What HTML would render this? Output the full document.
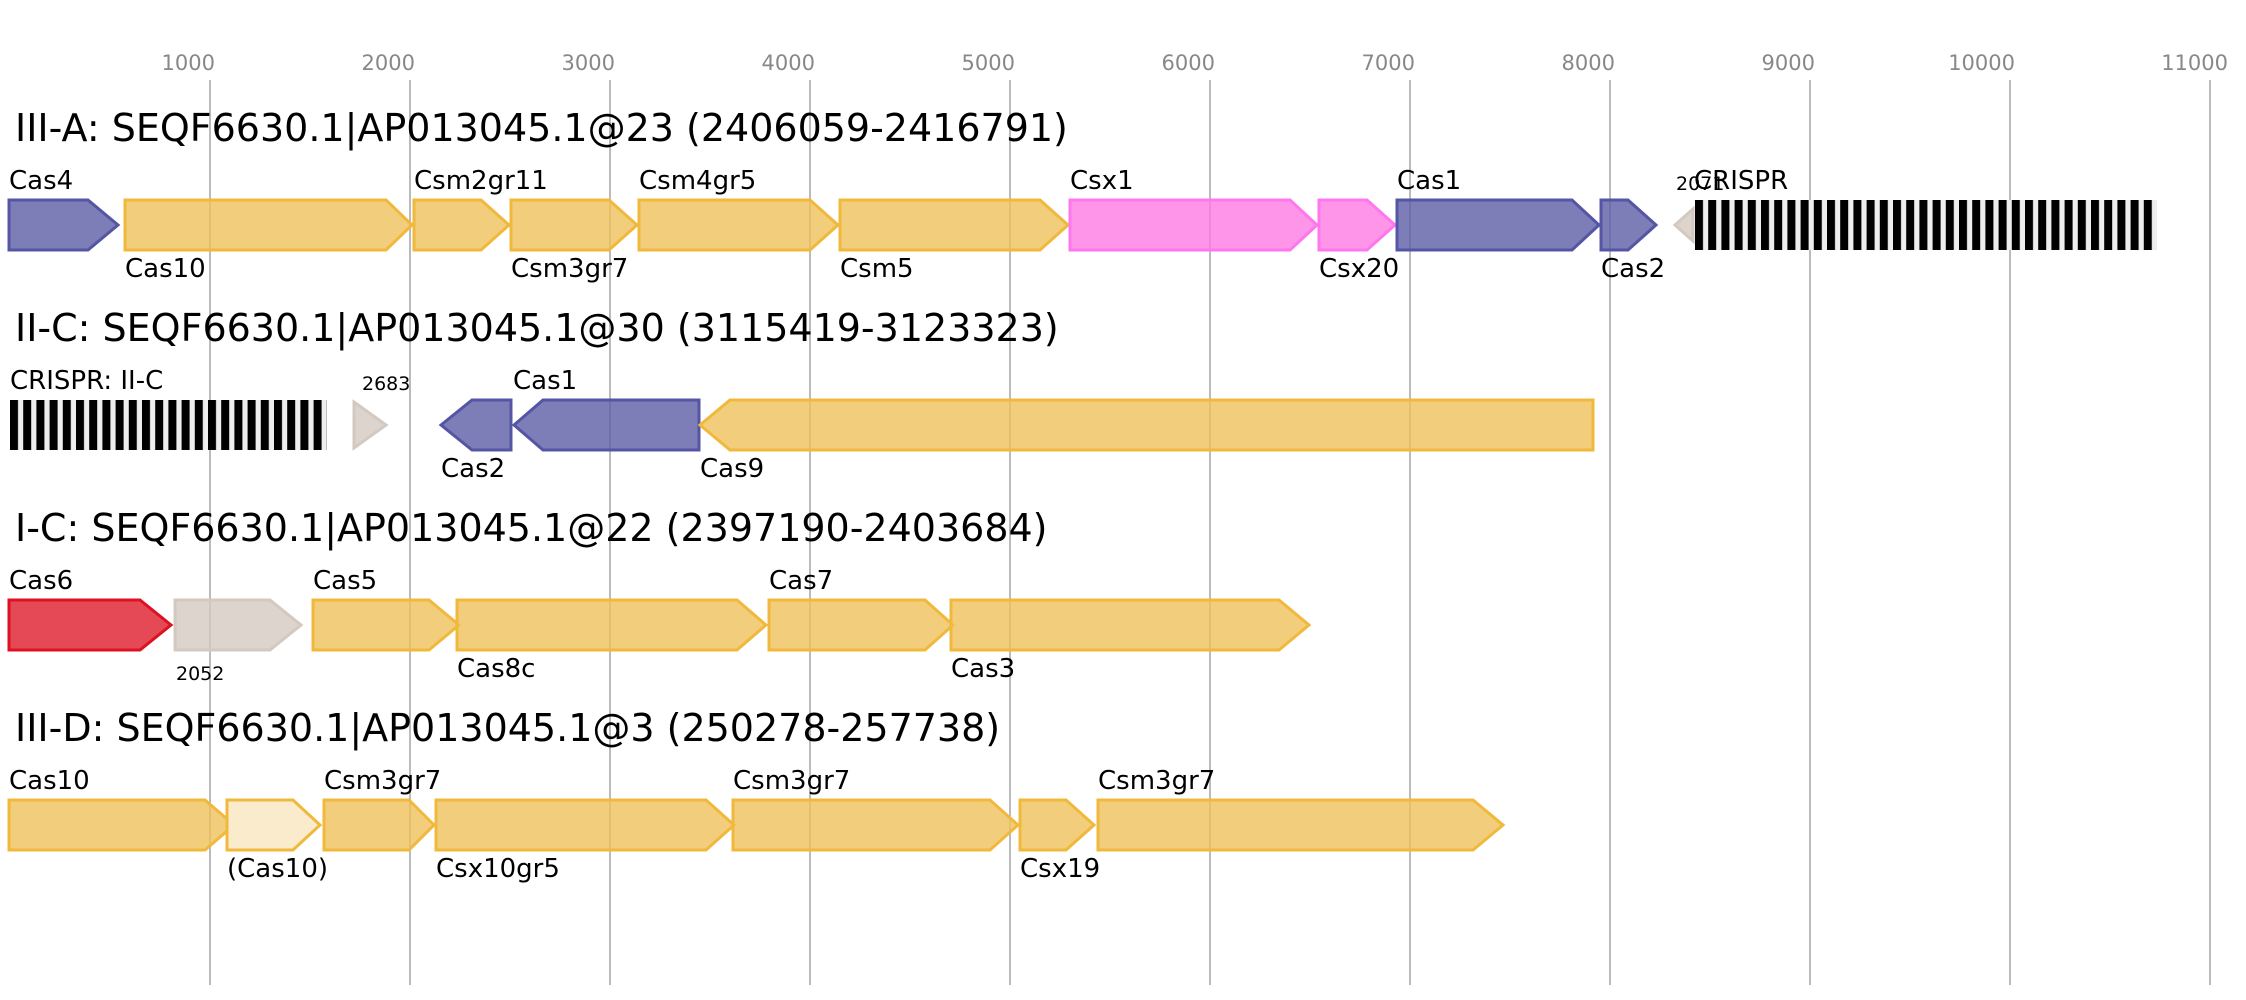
<!DOCTYPE html>
<html><head><meta charset="utf-8"><style>
html,body{margin:0;padding:0;background:#fff}
svg{display:block}
text{font-family:"DejaVu Sans","Liberation Sans",sans-serif}
</style></head><body>
<svg width="2246" height="1000" viewBox="0 0 2246 1000" xmlns="http://www.w3.org/2000/svg">
<g stroke="#bbb" stroke-width="2">
<line x1="210" y1="80" x2="210" y2="985"/><line x1="410" y1="80" x2="410" y2="985"/><line x1="610" y1="80" x2="610" y2="985"/><line x1="810" y1="80" x2="810" y2="985"/><line x1="1010" y1="80" x2="1010" y2="985"/><line x1="1210" y1="80" x2="1210" y2="985"/><line x1="1410" y1="80" x2="1410" y2="985"/><line x1="1610" y1="80" x2="1610" y2="985"/><line x1="1810" y1="80" x2="1810" y2="985"/><line x1="2010" y1="80" x2="2010" y2="985"/><line x1="2210" y1="80" x2="2210" y2="985"/>
</g>
<g fill="#888" font-size="21" text-anchor="end">
<text x="215" y="70">1000</text><text x="415" y="70">2000</text><text x="615" y="70">3000</text><text x="815" y="70">4000</text><text x="1015" y="70">5000</text><text x="1215" y="70">6000</text><text x="1415" y="70">7000</text><text x="1615" y="70">8000</text><text x="1815" y="70">9000</text><text x="2015" y="70">10000</text><text x="2228" y="70">11000</text>
</g>
<g font-size="38" fill="#000">
<text x="15" y="141">III-A: SEQF6630.1|AP013045.1@23 (2406059-2416791)</text>
<text x="15" y="341">II-C: SEQF6630.1|AP013045.1@30 (3115419-3123323)</text>
<text x="15" y="541">I-C: SEQF6630.1|AP013045.1@22 (2397190-2403684)</text>
<text x="15" y="741">III-D: SEQF6630.1|AP013045.1@3 (250278-257738)</text>
</g>
<defs>
<pattern id="cr" x="10" y="0" width="13.2" height="10" patternUnits="userSpaceOnUse"><rect width="13.2" height="10" fill="#eee"/><rect width="8" height="10" fill="#000"/></pattern>
<pattern id="cr2" x="1695" y="0" width="13.2" height="10" patternUnits="userSpaceOnUse"><rect width="13.2" height="10" fill="#eee"/><rect width="8" height="10" fill="#000"/></pattern>
</defs>
<g stroke-width="3" fill-opacity="0.8">
<polygon points="9,200 88,200 118,225 88,250 9,250" fill="#5d5da5" stroke="#5555a5"/>
<polygon points="125,200 386,200 412,225 386,250 125,250" fill="#efc05a" stroke="#f0b93c"/>
<polygon points="414,200 481,200 509,225 481,250 414,250" fill="#efc05a" stroke="#f0b93c"/>
<polygon points="511,200 609,200 637,225 609,250 511,250" fill="#efc05a" stroke="#f0b93c"/>
<polygon points="639,200 810,200 838,225 810,250 639,250" fill="#efc05a" stroke="#f0b93c"/>
<polygon points="840,200 1040,200 1068,225 1040,250 840,250" fill="#efc05a" stroke="#f0b93c"/>
<polygon points="1070,200 1290,200 1317,225 1290,250 1070,250" fill="#ff7ae4" stroke="#ff77ee"/>
<polygon points="1319,200 1367,200 1395,225 1367,250 1319,250" fill="#ff7ae4" stroke="#ff77ee"/>
<polygon points="1397,200 1572,200 1599,225 1572,250 1397,250" fill="#5d5da5" stroke="#5555a5"/>
<polygon points="1601,200 1628,200 1656,225 1628,250 1601,250" fill="#5d5da5" stroke="#5555a5"/>
<polygon points="1675,225 1693,209 1693,241" fill="#d3c9c1" stroke="#d3c9c1"/>
<polygon points="354,402 386,425 354,448" fill="#d3c9c1" stroke="#d3c9c1"/>
<polygon points="441,425 472,400 511,400 511,450 472,450" fill="#5d5da5" stroke="#5555a5"/>
<polygon points="514,425 543,400 699,400 699,450 543,450" fill="#5d5da5" stroke="#5555a5"/>
<polygon points="700,425 730,400 1593,400 1593,450 730,450" fill="#efc05a" stroke="#f0b93c"/>
<polygon points="9,600 140,600 171,625 140,650 9,650" fill="#df1c2c" stroke="#dd1122"/>
<polygon points="175,600 270,600 301,625 270,650 175,650" fill="#d3c9c1" stroke="#d3c9c1"/>
<polygon points="313,600 429,600 459,625 429,650 313,650" fill="#efc05a" stroke="#f0b93c"/>
<polygon points="457,600 737,600 766,625 737,650 457,650" fill="#efc05a" stroke="#f0b93c"/>
<polygon points="769,600 925,600 953,625 925,650 769,650" fill="#efc05a" stroke="#f0b93c"/>
<polygon points="951,600 1279,600 1309,625 1279,650 951,650" fill="#efc05a" stroke="#f0b93c"/>
<polygon points="9,800 205,800 234,825 205,850 9,850" fill="#efc05a" stroke="#f0b93c"/>
<polygon points="227,800 293,800 320,825 293,850 227,850" fill="#faebcc" stroke="#f0b93c" fill-opacity="1"/>
<polygon points="324,800 409,800 434,825 409,850 324,850" fill="#efc05a" stroke="#f0b93c"/>
<polygon points="436,800 706,800 734,825 706,850 436,850" fill="#efc05a" stroke="#f0b93c"/>
<polygon points="733,800 990,800 1018,825 990,850 733,850" fill="#efc05a" stroke="#f0b93c"/>
<polygon points="1020,800 1066,800 1094,825 1066,850 1020,850" fill="#efc05a" stroke="#f0b93c"/>
<polygon points="1098,800 1473,800 1503,825 1473,850 1098,850" fill="#efc05a" stroke="#f0b93c"/>
</g>
<rect x="1695" y="200" width="462" height="50" fill="url(#cr2)"/>
<rect x="10" y="400" width="317" height="50" fill="url(#cr)"/>
<g font-size="26" fill="#000">
<text x="9" y="189">Cas4</text><text x="125" y="277">Cas10</text><text x="414" y="189">Csm2gr11</text><text x="511" y="277">Csm3gr7</text><text x="639" y="189">Csm4gr5</text><text x="840" y="277">Csm5</text><text x="1070" y="189">Csx1</text><text x="1319" y="277">Csx20</text><text x="1397" y="189">Cas1</text><text x="1601" y="277">Cas2</text>
<text x="1694" y="189">CRISPR</text>
<text x="10" y="389">CRISPR: II-C</text><text x="513" y="389">Cas1</text><text x="441" y="477">Cas2</text><text x="700" y="477">Cas9</text>
<text x="9" y="589">Cas6</text><text x="313" y="589">Cas5</text><text x="457" y="677">Cas8c</text><text x="769" y="589">Cas7</text><text x="951" y="677">Cas3</text>
<text x="9" y="789">Cas10</text><text x="227" y="877">(Cas10)</text><text x="324" y="789">Csm3gr7</text><text x="436" y="877">Csx10gr5</text><text x="733" y="789">Csm3gr7</text><text x="1020" y="877">Csx19</text><text x="1098" y="789">Csm3gr7</text>
</g>
<g font-size="19" fill="#000">
<text x="1676" y="190">2071</text><text x="362" y="390">2683</text><text x="176" y="680">2052</text>
</g>
</svg>
</body></html>
